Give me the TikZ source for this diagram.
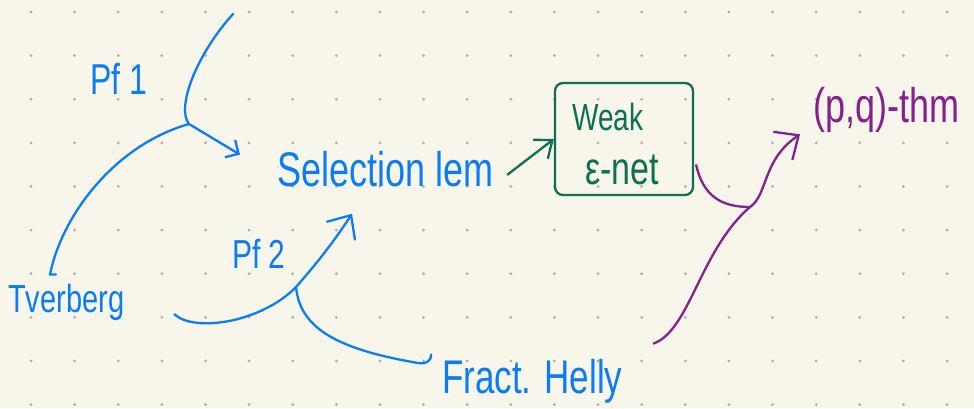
\documentclass[tikz,border=0pt]{standalone}
\usepackage{fontspec}
\setmainfont{Liberation Sans}
\usetikzlibrary{arrows.meta,calc}
\definecolor{paper}{HTML}{F8F6EB}
\definecolor{dotc}{HTML}{ADABA3}
\definecolor{penblue}{HTML}{0A7CF5}
\definecolor{pengreen}{HTML}{0E7050}
\definecolor{penpurple}{HTML}{86208E}
\newcommand{\tall}[1]{\scalebox{1}[1.35]{#1}}
\begin{document}
\begin{tikzpicture}[x=1pt,y=-1pt,line cap=round,line join=round,
  pen/.style={line width=2.3pt},
  lbl/.style={inner sep=0pt,anchor=base west},
  barbS/.style={-{Straight Barb[length=10pt,width=20pt]}},
  barbM/.style={-{Straight Barb[length=15pt,width=24pt]}},
  barbL/.style={-{Straight Barb[length=19pt,width=34pt]}}]
\fill[paper] (0,0) rectangle (974,408);
\useasboundingbox (0,0) rectangle (974,408);
\foreach \i in {0,...,21}{\foreach \j in {0,...,9}{\fill[dotc] (31+43.62*\i,12+43.62*\j) circle (1.5pt);}}

% labels
\node[lbl,penblue,font=\fontsize{32}{38}\selectfont] (pf1) at (90,94) {\tall{Pf 1}};
\node[lbl,penblue,font=\fontsize{29}{34}\selectfont] (tverberg) at (8,312) {\tall{Tverberg}};
\node[lbl,penblue,font=\fontsize{36}{42}\selectfont] (sel) at (277,186) {\tall{Selection lem}};
\node[lbl,penblue,font=\fontsize{30}{36}\selectfont] (pf2) at (232,268) {\tall{Pf 2}};
\node[lbl,penblue,font=\fontsize{35}{42}\selectfont] (helly) at (442,393) {\tall{Fract. Helly}};
\node[draw=pengreen,pen,rounded corners=8pt,minimum width=138pt,minimum height=112pt] (box) at (624,139) {};
\node[lbl,pengreen,font=\fontsize{28}{34}\selectfont] (weak) at (572,130) {\tall{Weak}};
\node[lbl,pengreen,font=\fontsize{34}{40}\selectfont] (eps) at (585,184) {\tall{ε-net}};
\node[lbl,penpurple,font=\fontsize{36}{42}\selectfont] (pq) at (813,122) {\tall{(p,q)-thm}};

% coordinates
\coordinate (j1) at (189,124);
\coordinate (top1) at (233,14);
\coordinate (tv1) at ($(tverberg.north west)+(48,-9)$);
\coordinate (tip1) at ($(sel.west)+(-37,-14)$);
\coordinate (j2) at (296,287);
\coordinate (tv2) at ($(tverberg.south east)+(50,-6)$);
\coordinate (tip2) at ($(sel.south west)+(75,27)$);
\coordinate (hk) at ($(helly.north west)+(-11,-4)$);
\coordinate (g0) at ($(sel.east)+(14,6)$);
\coordinate (j3) at (750,207);
\coordinate (p0) at ($(box.east)+(2,26)$);
\coordinate (h0) at ($(helly.north east)+(31,-15)$);
\coordinate (tip3) at ($(pq.south west)+(-13,2)$);

% Pf 1
\draw[pen,penblue] (tv1) -- ++(-6,0) .. controls (62,215) and (115,145) .. (j1);
\draw[pen,penblue] (top1) .. controls (196,55) and (176,108) .. (j1);
\draw[pen,penblue,barbS] (j1) -- (tip1);
% Pf 2
\draw[pen,penblue] (tv2) .. controls (195,333) and (262,322) .. (j2);
\draw[pen,penblue,barbL] (j2) .. controls (318,262) and (335,240) .. (tip2);
\draw[pen,penblue] (j2) .. controls (300,325) and (330,348) .. (418,363) .. controls (428,365) and (432,358) .. (hk);
% green
\draw[pen,pengreen,barbM] (g0) -- (box.west);
% purple
\draw[pen,penpurple] (p0) .. controls (703,195) and (720,207) .. (j3);
\draw[pen,penpurple] (h0) .. controls (690,330) and (700,250) .. (j3);
\draw[pen,penpurple,barbL] (j3) .. controls (768,195) and (762,160) .. (tip3);
\end{tikzpicture}
\end{document}
